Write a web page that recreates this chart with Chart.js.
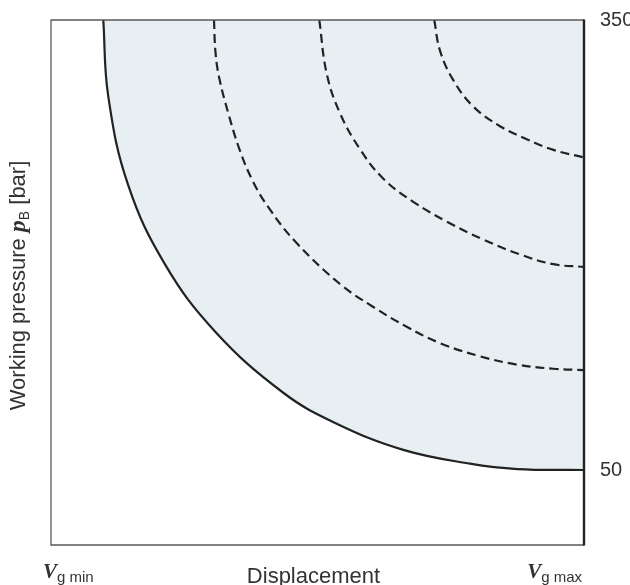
<!DOCTYPE html>
<html>
<head>
<meta charset="utf-8">
<title>Working pressure vs displacement</title>
<script src="https://cdn.jsdelivr.net/npm/chart.js@4.4.1/dist/chart.umd.min.js"></script>
<style>
    html, body { margin: 0; padding: 0; background: #fff; }
    #wrap { width: 630px; height: 585px; position: relative; }
</style>
</head>
<body>
<div id="wrap"><canvas id="chart"></canvas></div>
<script>
// Displacement in % of Vg max (0 = Vg min, 100 = Vg max), pressure in bar

// Solid limit curve
const limitX = [9.81, 10.75, 14.5, 21.39, 30.77, 43.58, 53.6, 66.1, 78.61, 87.5, 100];
const limitY = [350, 298.9, 239.7, 187.1, 142.4, 101.5, 80.9, 63.4, 54.2, 50.6, 50];

// Dashed curves (inner to outer)
const dash1X = [30.58, 30.86, 31.52, 33.26, 35.46, 37.96, 40.77, 45.78, 54.22, 60.47, 66.74, 72.98, 80.49, 87.37, 94.24, 100];
const dash1Y = [350, 328.5, 312.1, 287.9, 262.8, 241.9, 225.2, 202.5, 174, 158.7, 145.5, 134.6, 125.8, 120.3, 117.5, 116.6];

const dash2X = [50.34, 51.73, 54.22, 57.97, 62.35, 67.97, 74.24, 81.11, 88.01, 94.24, 100];
const dash2Y = [350, 314.2, 287.9, 263.9, 244.2, 228.8, 215.6, 203.6, 193.7, 187.2, 185.4];

const dash3X = [71.91, 72.98, 75.48, 79.23, 84.24, 89.25, 94.24, 100];
const dash3Y = [350, 329.6, 309.9, 292.3, 279.2, 270.5, 263.4, 258.4];

const pressureTicks = [50, 350];

const lineColor = '#222222';
const fillColor = '#e8eff3';
const textColor = '#333333';
const sans = '"Liberation Sans", Arial, sans-serif';
const serif = '"Liberation Serif", "Times New Roman", serif';

function toPoints(xs, ys) {
    return xs.map((x, i) => ({ x: x, y: ys[i] }));
}

function dashed(xs, ys) {
    return {
        data: toPoints(xs, ys),
        borderColor: lineColor,
        borderWidth: 2.2,
        borderDash: [9, 5],
        pointRadius: 0,
        fill: false,
        tension: 0.4
    };
}

// Frame: thin grey top/left/bottom, heavy pressure axis on the right
const framePlugin = {
    id: 'frame',
    afterDatasetsDraw(chart) {
        const { ctx, chartArea: { left, right, top, bottom } } = chart;
        ctx.save();
        ctx.strokeStyle = '#5a5a5a';
        ctx.lineWidth = 1.3;
        ctx.beginPath();
        ctx.moveTo(right, top);
        ctx.lineTo(left, top);
        ctx.lineTo(left, bottom);
        ctx.lineTo(right, bottom);
        ctx.stroke();
        ctx.strokeStyle = lineColor;
        ctx.lineWidth = 2.4;
        ctx.beginPath();
        ctx.moveTo(right, top - 0.6);
        ctx.lineTo(right, bottom + 0.6);
        ctx.stroke();
        ctx.restore();
    }
};

// Axis titles with italic symbols and subscripts
function drawParts(ctx, parts, x, y) {
    let cx = x;
    parts.forEach(p => {
        ctx.font = p.font;
        ctx.fillText(p.text, cx, y + (p.dy || 0));
        cx += ctx.measureText(p.text).width;
    });
}

function partsWidth(ctx, parts) {
    return parts.reduce((w, p) => {
        ctx.font = p.font;
        return w + ctx.measureText(p.text).width;
    }, 0);
}

const labelsPlugin = {
    id: 'labels',
    afterDraw(chart) {
        const { ctx, chartArea: { left, right, top, bottom } } = chart;
        ctx.save();
        ctx.fillStyle = textColor;
        ctx.textBaseline = 'alphabetic';
        ctx.textAlign = 'left';

        // y title, rotated
        const yTitle = [
            { text: 'Working pressure ', font: '22px ' + sans },
            { text: 'p', font: 'bold italic 24px ' + serif },
            { text: 'B', font: '14px ' + sans, dy: 4 },
            { text: ' [bar]', font: '22px ' + sans }
        ];
        ctx.translate(25, (top + bottom) / 2 + 3);
        ctx.rotate(-Math.PI / 2);
        drawParts(ctx, yTitle, -partsWidth(ctx, yTitle) / 2, 0);
        ctx.setTransform(1, 0, 0, 1, 0, 0);
        ctx.scale(chart.currentDevicePixelRatio, chart.currentDevicePixelRatio);

        // x title
        ctx.font = '22px ' + sans;
        ctx.textAlign = 'center';
        ctx.fillText('Displacement', (left + right) / 2 - 4, 583);
        ctx.textAlign = 'left';

        // Vg min / Vg max
        const vMin = [
            { text: 'V', font: 'bold italic 21px ' + serif },
            { text: 'g min', font: '15px ' + sans, dy: 4 }
        ];
        const vMax = [
            { text: 'V', font: 'bold italic 21px ' + serif },
            { text: 'g max', font: '15px ' + sans, dy: 4 }
        ];
        drawParts(ctx, vMin, 43, 578);
        drawParts(ctx, vMax, 582 - partsWidth(ctx, vMax), 578);
        ctx.restore();
    }
};

const ctx = document.getElementById('chart').getContext('2d');
new Chart(ctx, {
    type: 'line',
    data: {
        datasets: [
            {
                data: toPoints(limitX, limitY),
                borderColor: lineColor,
                borderWidth: 2.2,
                backgroundColor: fillColor,
                fill: 'end',
                pointRadius: 0,
                tension: 0.4
            },
            dashed(dash1X, dash1Y),
            dashed(dash2X, dash2Y),
            dashed(dash3X, dash3Y)
        ]
    },
    options: {
        responsive: true,
        maintainAspectRatio: false,
        animation: false,
        layout: {
            padding: { left: 51, top: 12, right: 0, bottom: 0 }
        },
        plugins: {
            legend: { display: false },
            tooltip: { enabled: false },
            filler: { drawTime: 'beforeDatasetsDraw' }
        },
        scales: {
            x: {
                type: 'linear',
                min: 0,
                max: 100,
                grid: { display: false },
                border: { display: false },
                ticks: { display: false },
                afterFit: function(scale) { scale.height = 40; }
            },
            y: {
                type: 'linear',
                position: 'right',
                min: 0,
                max: 350,
                grid: { display: false },
                border: { display: false },
                afterBuildTicks: function(axis) {
                    axis.ticks = pressureTicks.map(v => ({ value: v }));
                },
                ticks: {
                    padding: 8,
                    color: textColor,
                    font: { family: sans, size: 20 },
                    callback: function(value) { return String(value); }
                },
                afterFit: function(scale) { scale.width = 46; }
            }
        }
    },
    plugins: [framePlugin, labelsPlugin]
});
</script>
</body>
</html>
